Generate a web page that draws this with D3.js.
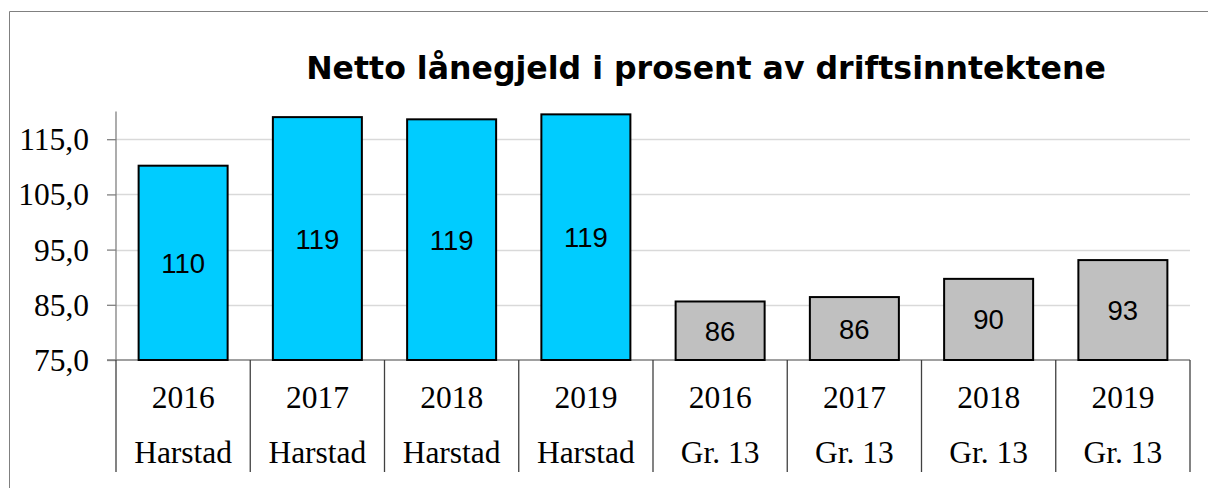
<!DOCTYPE html>
<html>
<head>
<meta charset="utf-8">
<script src="https://cdn.jsdelivr.net/npm/d3@7"></script>
<style>
  html, body { margin: 0; padding: 0; background: #fff; }
  svg { display: block; }
</style>
</head>
<body>
<svg id="chart" width="1208" height="488"></svg>
<script>
const title = "Netto lånegjeld i prosent av driftsinntektene";
const years = ["2016", "2017", "2018", "2019", "2016", "2017", "2018", "2019"];
const groups = ["Harstad", "Harstad", "Harstad", "Harstad", "Gr. 13", "Gr. 13", "Gr. 13", "Gr. 13"];
const values = [110.2, 119.0, 118.6, 119.5, 85.6, 86.4, 89.7, 93.1];
const labels = ["110", "119", "119", "119", "86", "86", "90", "93"];
const yTicks = [75, 85, 95, 105, 115];
const groupColors = { "Harstad": "#00CCFF", "Gr. 13": "#C0C0C0" };

(function () {
const svg = d3.select("#chart");
const pLeft = 116, pRight = 1190, pTop = 111.6, pBottom = 360;

// outer frame
svg.append("path")
  .attr("d", `M9.5,488 L9.5,11.5 L1208,11.5`)
  .attr("fill", "none").attr("stroke", "#808080").attr("stroke-width", 1);

const idx = d3.range(values.length);
const x = d3.scaleBand().domain(idx).range([pLeft, pRight]).paddingInner(0.337).paddingOuter(0.337 / 2);
const xOuter = d3.scaleBand().domain(idx).range([pLeft, pRight]);
const y = d3.scaleLinear().domain([75, 120]).range([pBottom, pTop]);

// gridlines
svg.append("g").selectAll("line").data(yTicks.filter(t => t > 75)).join("line")
  .attr("x1", pLeft).attr("x2", pRight)
  .attr("y1", d => Math.round(y(d)) + 0.5).attr("y2", d => Math.round(y(d)) + 0.5)
  .attr("stroke", "#d9d9d9").attr("stroke-width", 1.5);

// y axis
const yAxis = d3.axisLeft(y).tickValues(yTicks).tickSize(9).tickPadding(18)
  .tickFormat(d => d3.format(".1f")(d).replace(".", ","));
const gy = svg.append("g").attr("transform", `translate(${pLeft},0)`).call(yAxis);
gy.select(".domain").attr("stroke", "#808080").attr("stroke-width", 1.3).attr("d", `M0,${pTop}V${pBottom}`);
gy.selectAll(".tick line").attr("stroke", "#808080").attr("stroke-width", 1.3);
gy.selectAll(".tick text")
  .attr("font-family", "'Liberation Serif', 'Times New Roman', serif")
  .attr("font-size", "31.5px").attr("fill", "#000").attr("dy", "0.33em");

// x axis line
svg.append("line").attr("x1", pLeft - 9).attr("x2", pRight)
  .attr("y1", pBottom).attr("y2", pBottom)
  .attr("stroke", "#808080").attr("stroke-width", 1.3);

// separators
const seps = idx.map(i => xOuter(i)).concat([pRight]);
svg.append("g").selectAll("line").data(seps).join("line")
  .attr("x1", d => d).attr("x2", d => d)
  .attr("y1", pBottom).attr("y2", 472)
  .attr("stroke", "#404040").attr("stroke-width", 1.3);

// bars
svg.append("g").selectAll("rect").data(idx).join("rect")
  .attr("x", i => x(i)).attr("width", x.bandwidth())
  .attr("y", i => y(values[i])).attr("height", i => y(75) - y(values[i]))
  .attr("fill", i => groupColors[groups[i]])
  .attr("stroke", "#000").attr("stroke-width", 2);

// bar labels
svg.append("g").selectAll("text").data(idx).join("text")
  .attr("x", i => x(i) + x.bandwidth() / 2)
  .attr("y", i => (y(values[i]) + y(75)) / 2 + 10)
  .attr("text-anchor", "middle")
  .attr("font-family", "'Liberation Sans', Arial, sans-serif")
  .attr("font-size", "27.5px").attr("fill", "#000")
  .text(i => labels[i]);

// category labels
const cat = svg.append("g")
  .attr("font-family", "'Liberation Serif', 'Times New Roman', serif")
  .attr("font-size", "31.5px").attr("fill", "#000").attr("text-anchor", "middle");
cat.selectAll("text.yr").data(idx).join("text").attr("class", "yr")
  .attr("x", i => xOuter(i) + xOuter.bandwidth() / 2).attr("y", 408)
  .text(i => years[i]);
cat.selectAll("text.gr").data(idx).join("text").attr("class", "gr")
  .attr("x", i => xOuter(i) + xOuter.bandwidth() / 2).attr("y", 463)
  .text(i => groups[i]);

// title
const t = svg.append("text")
  .attr("x", 706).attr("y", 79)
  .attr("text-anchor", "middle")
  .attr("font-family", "'DejaVu Sans', Verdana, sans-serif")
  .attr("font-weight", "bold").attr("font-size", "30px").attr("fill", "#000")
  .text(title);
const w = t.node().getComputedTextLength();
t.attr("font-size", (30 * 800 / w).toFixed(2) + "px");
})();
</script>
</body>
</html>
